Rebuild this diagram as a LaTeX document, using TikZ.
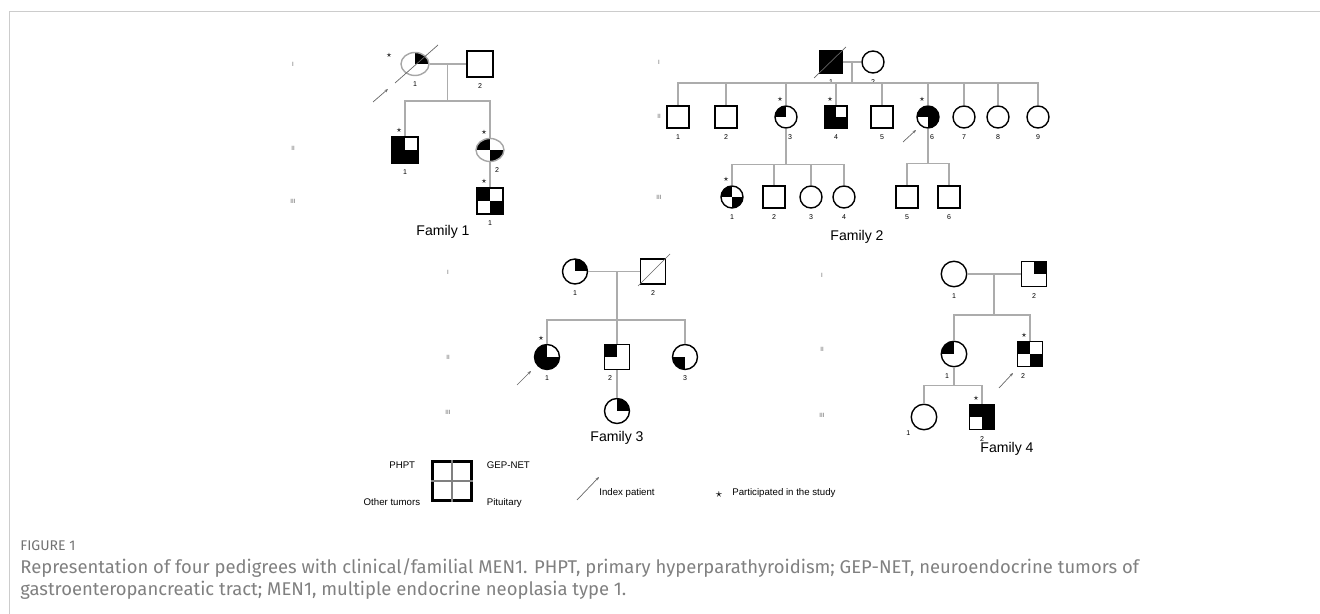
\documentclass[tikz,border=0pt]{standalone}
\usepackage{fontspec}
\setmainfont{Liberation Sans}
\newfontfamily\capfont{Fira Sans}
\usetikzlibrary{arrows.meta,calc,positioning,shapes.geometric}

\tikzset{
  person/.style={draw, inner sep=0pt, line width=0.8pt},
  quads/.style={path picture={\foreach \c in {#1}
      \fill (path picture bounding box.center) rectangle (path picture bounding box.\c);}},
  numtext/.style={font=\fontsize{4}{4}\selectfont, inner sep=0pt, label distance=1.1mm},
  num/.style={label={[numtext]below:#1}},
  numl/.style={label={[numtext,xshift=-1.4mm]below:#1}},
  numr/.style={label={[numtext,xshift=1.4mm]below:#1}},
  nums/.style={label={[numtext,xshift=0.8mm]below:#1}},
  startext/.style={font=\fontsize{4.5}{4}\selectfont, inner sep=0pt, label distance=0.6mm, xshift=-1.2mm},
  study/.style={label={[startext]#1:$\star$}},
  study/.default=above,
  gen/.style={font=\fontsize{3.5}{4}\selectfont, text=gray!80!black},
  tie/.style={draw=gray!65, line width=0.6pt},
  deceased/.style={draw=gray!80!black, line width=0.4pt},
  indexarrow/.style={draw=gray!80!black, line width=0.4pt, -{Stealth[length=2pt,width=1.6pt]}},
  famtitle/.style={font=\fontsize{8}{9}\selectfont},
  keytext/.style={font=\fontsize{5.5}{6}\selectfont, inner sep=0pt}
}

\begin{document}
\begin{tikzpicture}[x=0.02cm, y=-0.02cm]
  \useasboundingbox (0,0) rectangle (1320,614);
  \draw[gray!40, line width=0.8pt] (9.5,614) |- (1320,11.5);

  % Family 1
  \begin{scope}
    \tikzstyle{male}=[person,rectangle,minimum size=5.2mm]
    \tikzstyle{female}=[person,ellipse,minimum width=5.6mm,minimum height=4.6mm,draw=gray!70]

    \node[gen] (g1) at (293,64)  {I};
    \node[gen] (g2) at (293,148) {II};
    \node[gen] (g3) at (293,201) {III};

    \node[female,quads={north east},study=160,num=1] (i1) at (415,64) {};
    \node[male,num=2]                               (i2) at (480,64) {};
    \node[male,quads={north west,south west,south east},study,num=1] (ii1) at (405,150) {};
    \node[female,quads={north west,south east},study,numr=2]         (ii2) at (490,150) {};
    \node[male,quads={north west,south east},study,num=1]            (iii1) at (490,201) {};
    \node[famtitle] (fam) at (443,232) {Family 1};

    \path ($(i1)!.5!(i2)$) coordinate (m) ++(0,37) coordinate (s);
    \draw[tie] (i1) -- (i2);
    \draw[tie] (m) -- (s);
    \draw[tie] (s) -| (ii1);
    \draw[tie] (s) -| (ii2);
    \draw[tie] (ii2) -- (iii1);
    \draw[deceased] ([shift={(-20,19)}]i1.center) -- ([shift={(23,-19)}]i1.center);
    \draw[indexarrow] ([shift={(-42,38)}]i1.center) -- ([shift={(-27,25)}]i1.center);
  \end{scope}

  % Family 2
  \begin{scope}
    \tikzstyle{male}=[person,rectangle,minimum size=4.4mm]
    \tikzstyle{female}=[person,circle,minimum size=4.4mm]

    \node[gen] (g1) at (659,62)  {I};
    \node[gen] (g2) at (659,116) {II};
    \node[gen] (g3) at (659,197) {III};

    \node[male,fill=black,num=1] (i1) at (831,62) {};
    \node[female,num=2]          (i2) at (873,62) {};

    \node[male,num=1]   (ii1) at (678,117) {};
    \node[male,num=2]   (ii2) at (726,117) {};
    \node[female,quads={north west},study,nums=3] (ii3) at (786,117) {};
    \node[male,quads={north west,south west,south east},study,num=4] (ii4) at (836,117) {};
    \node[male,num=5]   (ii5) at (882,117) {};
    \node[female,quads={north west,north east,south east},study,nums=6] (ii6) at (928,117) {};
    \node[female,num=7] (ii7) at (964,117) {};
    \node[female,num=8] (ii8) at (998,117) {};
    \node[female,num=9] (ii9) at (1038,117) {};

    \node[female,quads={north west,south east},study,num=1] (iii1) at (732,197) {};
    \node[male,num=2]   (iii2) at (774,197) {};
    \node[female,num=3] (iii3) at (811,197) {};
    \node[female,num=4] (iii4) at (844,197) {};
    \node[male,num=5]   (iii5) at (907,197) {};
    \node[male,num=6]   (iii6) at (949,197) {};
    \node[famtitle] (fam) at (857,237) {Family 2};

    \path ($(i1)!.5!(i2)$) coordinate (m) ++(0,21) coordinate (s);
    \path (ii3.south) ++(0,36) coordinate (s3);
    \path (ii6.south) ++(0,35) coordinate (s6);
    \draw[tie] (i1) -- (i2);
    \draw[tie] (m) -- (s);
    \foreach \n in {ii1,ii2,ii3,ii4,ii5,ii6,ii7,ii8,ii9}
      \draw[tie] (s) -| (\n);
    \draw[tie] (ii3) -- (s3);
    \foreach \n in {iii1,iii2,iii3,iii4}
      \draw[tie] (s3) -| (\n);
    \draw[tie] (ii6) -- (s6);
    \foreach \n in {iii5,iii6}
      \draw[tie] (s6) -| (\n);
    \draw[deceased] ([shift={(-17,16)}]i1.center) -- ([shift={(15,-15)}]i1.center);
    \draw[indexarrow] ([shift={(-25,25)}]ii6.center) -- ([shift={(-12,13)}]ii6.center);
  \end{scope}

  % Family 3
  \begin{scope}
    \tikzstyle{male}=[person,rectangle,minimum size=5mm]
    \tikzstyle{female}=[person,circle,minimum size=5mm]

    \node[gen] (g1) at (448,272) {I};
    \node[gen] (g2) at (448,357) {II};
    \node[gen] (g3) at (448,412) {III};

    \node[female,quads={north east},num=1] (i1) at (575,271.5) {};
    \node[male,num=2]                      (i2) at (653,271.5) {};
    \node[female,quads={north west,south west,south east},study,num=1] (ii1) at (547,357) {};
    \node[male,quads={north west},numl=2]    (ii2) at (617,357) {};
    \node[female,quads={south west},num=3]   (ii3) at (685,357) {};
    \node[female,quads={north east}]         (iii1) at (617,411) {};
    \node[famtitle] (fam) at (617,438) {Family 3};

    \path (ii2 |- i1) coordinate (m) ++(0,48.5) coordinate (s);
    \draw[tie] (i1) -- (i2);
    \draw[tie] (m) -- (ii2);
    \draw[tie] (s) -| (ii1);
    \draw[tie] (s) -| (ii3);
    \draw[tie] (ii2) -- (iii1);
    \draw[deceased] ([shift={(-15,14.5)}]i2.center) -- ([shift={(17,-17.5)}]i2.center);
    \draw[indexarrow] ([shift={(-30,28)}]ii1.center) -- ([shift={(-16,14)}]ii1.center);
  \end{scope}

  % Family 4
  \begin{scope}
    \tikzstyle{male}=[person,rectangle,minimum size=5.1mm]
    \tikzstyle{female}=[person,circle,minimum size=5.1mm]

    \node[gen] (g1) at (822,275) {I};
    \node[gen] (g2) at (822,349) {II};
    \node[gen] (g3) at (822,415) {III};

    \node[female,num=1]                   (i1) at (954,274) {};
    \node[male,quads={north east},num=2]  (i2) at (1034,274) {};
    \node[female,quads={north west},numl=1]                  (ii1) at (954,354) {};
    \node[male,quads={north west,south east},study,numl=2]   (ii2) at (1030,354) {};
    \node[female,label={[numtext]225:1}]                     (iii1) at (924,417) {};
    \node[male,quads={north west,north east,south east},study,num=2] (iii2) at (982,417) {};
    \node[famtitle] (fam) at (1007,449) {Family 4};

    \path ($(i1)!.5!(i2)$) coordinate (m) ++(0,41) coordinate (s);
    \path (ii1.south) ++(0,18) coordinate (s1);
    \draw[tie] (i1) -- (i2);
    \draw[tie] (m) -- (s);
    \draw[tie] (s) -| (ii1);
    \draw[tie] (s) -| (ii2);
    \draw[tie] (ii1) -- (s1);
    \draw[tie] (s1) -| (iii1);
    \draw[tie] (s1) -| (iii2);
    \draw[indexarrow] ([shift={(-31,34)}]ii2.center) -- ([shift={(-17,19)}]ii2.center);
  \end{scope}

  % legend
  \node[draw, line width=1.2pt, minimum size=7.8mm, inner sep=0pt] (key) at (452,481) {};
  \draw[gray, line width=0.6pt] (key.north) -- (key.south) (key.west) -- (key.east);
  \node[keytext, anchor=east] (phpt)  at ([shift={(-16,5)}]key.north west) {PHPT};
  \node[keytext, anchor=east] (other) at ([shift={(-11,1)}]key.south west) {Other tumors};
  \node[keytext, anchor=west] (gep)   at ([shift={(14,5)}]key.north east) {GEP-NET};
  \node[keytext, anchor=west] (pit)   at ([shift={(14,1)}]key.south east) {Pituitary};
  \coordinate (lgtip) at (599,477);
  \draw[indexarrow] (lgtip) ++(-22,23) -- (lgtip);
  \node[keytext, anchor=west] (idx) at (599,493) {Index patient};
  \node[font=\fontsize{7}{7}\selectfont, inner sep=0pt] (lgstar) at (719,495) {$\star$};
  \node[keytext, anchor=west] (part) at (732,493) {Participated in the study};

  % caption
  \node[anchor=base west, inner sep=0pt, font=\capfont\fontsize{8}{9}\selectfont, text=gray!90!black] (figno) at (20,551) {FIGURE 1};
  \node[anchor=base west, inner sep=0pt, font=\capfont\fontsize{10.5}{12}\selectfont, text=gray] (cap1) at (20,574)
    {Representation of four pedigrees with clinical/familial MEN1. PHPT, primary hyperparathyroidism; GEP-NET, neuroendocrine tumors of};
  \node[anchor=base west, inner sep=0pt, font=\capfont\fontsize{10.5}{12}\selectfont, text=gray] (cap2) at (20,596)
    {gastroenteropancreatic tract; MEN1, multiple endocrine neoplasia type 1.};
\end{tikzpicture}
\end{document}
